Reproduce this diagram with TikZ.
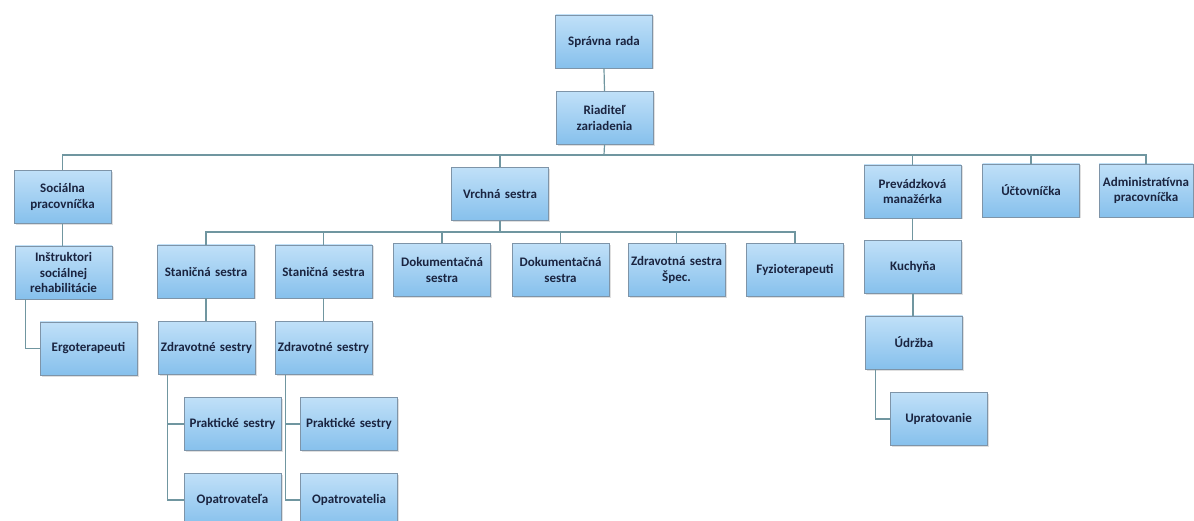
\documentclass[tikz,border=0pt]{standalone}
\usepackage{fontspec}
\setmainfont{Carlito}
\usetikzlibrary{shadows,calc}
\definecolor{boxtop}{RGB}{192,224,248}
\definecolor{boxbot}{RGB}{134,192,236}
\definecolor{boxline}{RGB}{126,148,168}
\definecolor{txt}{RGB}{26,36,64}
\definecolor{linec}{RGB}{112,150,160}
\begin{document}
\begin{tikzpicture}[x=1pt,y=-1pt,
  box/.style={draw=boxline, line width=0.8pt, top color=boxtop, bottom color=boxbot,
    text width=95pt, align=center, inner xsep=1pt, inner ysep=2pt,
    minimum height=53pt, text=txt,
    font=\fontsize{13}{15.5}\selectfont\bfseries,
    drop shadow={shadow xshift=1.5pt, shadow yshift=-1.5pt, opacity=0.25}},
  conn/.style={draw=linec, line width=1.2pt}]
\useasboundingbox (0,0) rectangle (1194,521);
\clip (0,0) rectangle (1194,521);
% nodes
\node[box] (sr) at (604,41.5) {Správna rada};
\node[box] (rz) at (604.5,118) {Riaditeľ\\ zariadenia};
\node[box] (soc) at (62.5,197) {Sociálna\\ pracovníčka};
\node[box] (vs) at (500,194) {Vrchná sestra};
\node[box] (prev) at (912.5,191.5) {Prevádzková\\ manažérka};
\node[box] (uct) at (1031,190.5) {Účtovníčka};
\node[box, text width=92pt] (adm) at (1146,190.5) {Administratívna\\ pracovníčka};
\node[box] (ins) at (63.5,272.5) {Inštruktori\\ sociálnej\\ rehabilitácie};
\node[box] (st1) at (206,271.5) {Staničná sestra};
\node[box] (st2) at (323.5,271.5) {Staničná sestra};
\node[box] (dok1) at (442,270) {Dokumentačná\\ sestra};
\node[box] (dok2) at (560.5,270) {Dokumentačná\\ sestra};
\node[box] (zss) at (676.5,270) {Zdravotná sestra\\ Špec.};
\node[box] (fyz) at (795,270) {Fyzioterapeuti};
\node[box] (kuch) at (913,267) {Kuchyňa};
\node[box] (erg) at (88.5,348.5) {Ergoterapeuti};
\node[box] (zd1) at (206.5,348) {Zdravotné sestry};
\node[box] (zd2) at (323.5,348) {Zdravotné sestry};
\node[box] (udr) at (914,342.5) {Údržba};
\node[box] (pr1) at (232.5,424) {Praktické sestry};
\node[box] (pr2) at (349,424) {Praktické sestry};
\node[box] (upr) at (938.5,419) {Upratovanie};
\node[box] (op1) at (232.5,500) {Opatrovateľa};
\node[box] (op2) at (349,500) {Opatrovatelia};
% connectors
\coordinate (b1) at (604,155);
\coordinate (b2) at (500,232);
\draw[conn] (sr.south) -- (rz.north);
\draw[conn] (rz.south) -- (b1);
\foreach \n in {soc,vs,prev,uct,adm} \draw[conn] (b1) -| (\n.north);
\draw[conn] (vs.south) -- (b2);
\foreach \n in {st1,st2,dok1,dok2,zss,fyz} \draw[conn] (b2) -| (\n.north);
\draw[conn] (soc.south) -- (soc.south |- ins.north);
\draw[conn] ($(ins.south west)+(11,0)$) |- (erg.west);
\draw[conn] (st1.south) -- (st1.south |- zd1.north);
\draw[conn] (st2.south) -- (st2.south |- zd2.north);
\draw[conn] ($(zd1.south west)+(10,0)$) |- (pr1.west);
\draw[conn] ($(zd1.south west)+(10,0)$) |- (op1.west);
\draw[conn] ($(zd2.south west)+(11,0)$) |- (pr2.west);
\draw[conn] ($(zd2.south west)+(11,0)$) |- (op2.west);
\draw[conn] (prev.south) -- (prev.south |- kuch.north);
\draw[conn] (kuch.south) -- (kuch.south |- udr.north);
\draw[conn] ($(udr.south west)+(10,0)$) |- (upr.west);
\end{tikzpicture}
\end{document}
